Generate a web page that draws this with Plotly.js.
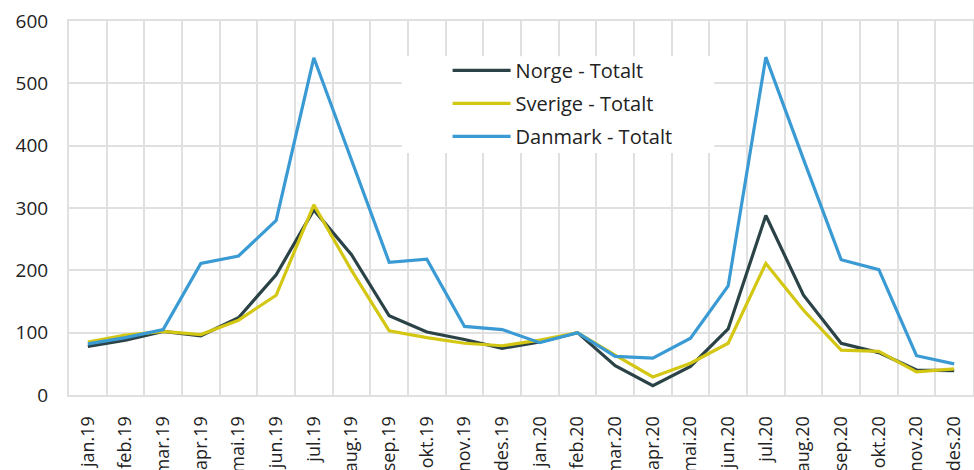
<!DOCTYPE html>
<html>
<head>
<meta charset="utf-8">
<script src="https://cdn.plot.ly/plotly-3.0.1.min.js"></script>
<style>html,body{margin:0;padding:0;background:#fff;}#chart{width:974px;height:470px;}</style>
</head>
<body>
<div id="chart"></div>
<script>
const months = ["jan.19","feb.19","mar.19","apr.19","mai.19","jun.19","jul.19","aug.19","sep.19","okt.19","nov.19","des.19",
                "jan.20","feb.20","mar.20","apr.20","mai.20","jun.20","jul.20","aug.20","sep.20","okt.20","nov.20","des.20"];
const norge   = [78, 88, 102, 95, 124, 193, 297, 225, 127, 101, 89, 75, 85, 100, 47, 15, 46, 106, 288, 160, 83, 68, 40, 39];
const sverige = [85, 96, 102, 97, 120, 160, 305, 200, 103, 92, 83, 79, 88, 100, 64, 29, 51, 83, 211, 136, 72, 70, 37, 42];
const danmark = [82, 92, 105, 211, 223, 280, 541, 378, 213, 218, 110, 105, 84, 100, 62, 59, 91, 175, 542, 378, 217, 201, 63, 50];
const seriesNames = ["Norge - Totalt", "Sverige - Totalt", "Danmark - Totalt"];
const yTicks = [0, 100, 200, 300, 400, 500, 600];

const font = "'Open Sans', 'Noto Sans', sans-serif";
const mk = (y, name, color, g) => ({x: months, y: y, name: name, legendgroup: g, type: 'scatter', mode: 'lines',
  line: {color: color, width: 3.2}, hoverinfo: 'skip'});
const data = [
  mk(norge, seriesNames[0], '#2b4346', 'a'),
  mk(sverige, seriesNames[1], '#d4c714', 'b'),
  mk(danmark, seriesNames[2], '#3a9ad4', 'c')
];
const grid = '#e0e0e0';
const layout = {
  width: 974, height: 470,
  margin: {l: 69, r: 1, t: 21, b: 75},
  paper_bgcolor: '#fff', plot_bgcolor: '#fff',
  font: {family: font, size: 19, color: '#222'},
  showlegend: true,
  legend: {x: 0.4188, y: 0.92, xanchor: 'left', yanchor: 'top', bgcolor: 'rgba(0,0,0,0)',
    font: {family: font, size: 20, color: '#222'}, itemwidth: 58, tracegroupgap: 4,
    borderwidth: 0, traceorder: 'grouped'},
  shapes: [{type: 'rect', xref: 'paper', yref: 'paper', x0: 0.368, x1: 0.7138, y0: 0.647, y1: 0.906,
    fillcolor: '#fff', line: {width: 0}, layer: 'above'}],
  xaxis: {type: 'category', tickson: 'boundaries', showgrid: true, gridcolor: grid, gridwidth: 2,
    ticks: '', tickangle: -90, tickfont: {size: 18, color: '#222'}, ticklabelstandoff: 12,
    showline: true, linecolor: grid, linewidth: 2, mirror: true, range: [-0.5, 23.5], fixedrange: true},
  yaxis: {range: [0, 600], tickvals: yTicks, showgrid: true, gridcolor: grid, gridwidth: 2,
    zeroline: false, ticks: '', tickfont: {size: 19, color: '#222'}, ticklabelstandoff: 15,
    showline: true, linecolor: grid, linewidth: 2, mirror: true, fixedrange: true}
};
Plotly.newPlot('chart', data, layout, {displayModeBar: false, staticPlot: true});
</script>
</body>
</html>
